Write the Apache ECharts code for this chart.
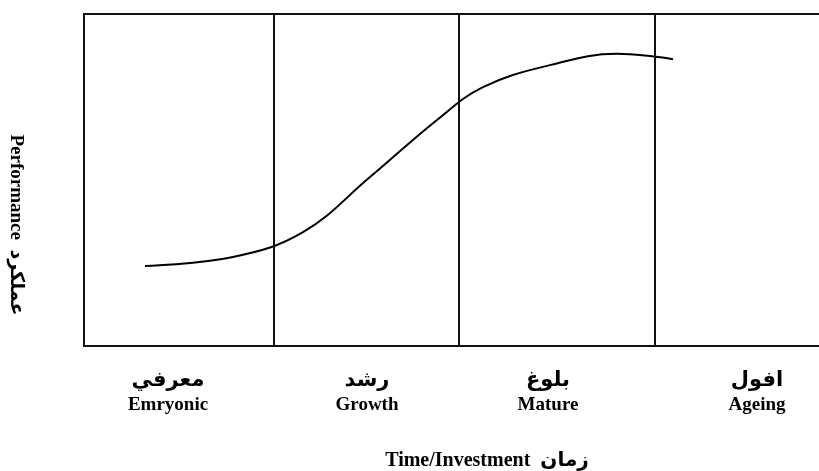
<!DOCTYPE html>
<html>
<head>
<meta charset="utf-8">
<script src="https://cdn.jsdelivr.net/npm/echarts@6/dist/echarts.min.js"></script>
<style>
  html, body { margin: 0; padding: 0; background: #fff; }
  #container { width: 819px; height: 471px; }
</style>
</head>
<body>
<div id="container"></div>
<script>
  var dom = document.getElementById("container");
  var myChart = echarts.init(dom);

  // stage names (arabic + english) and where the label sits on the time axis
  var stageAr = ['معرفي', 'رشد', 'بلوغ', 'افول'];
  var stageEn = ['Emryonic', 'Growth', 'Mature', 'Ageing'];
  var stageLabelPos = [84, 283, 464, 673];
  // boundaries between the stages
  var stageBounds = [190, 375, 571];

  // performance curve (time, performance 0-100)
  var curveTime = [61, 149, 219, 286, 353, 399, 466, 533, 570, 589];
  var curvePerf = [24.1, 26.8, 34.3, 50.9, 68.1, 78.0, 84.6, 88.0, 87.2, 86.4];

  var serif = '"Liberation Serif", "Times New Roman", "DejaVu Sans", serif';

  var curveData = curveTime.map(function (t, i) { return [t, curvePerf[i]]; });

  option = {
      animation: false,
      grid: {
          left: 84,
          top: 14,
          width: 740,
          height: 332,
          outerBoundsMode: 'none',
          containLabel: false,
          show: true,
          borderColor: '#111',
          borderWidth: 2,
          backgroundColor: '#fff'
      },
      xAxis: {
          type: 'value',
          min: 0,
          max: 740,
          splitLine: { show: false },
          axisLine: { show: false },
          axisTick: { show: false },
          axisLabel: {
              customValues: stageLabelPos,
              margin: 22,
              formatter: function (v) {
                  var i = stageLabelPos.indexOf(v);
                  return '{ar|' + stageAr[i] + '}\n{en|' + stageEn[i] + '}';
              },
              rich: {
                  ar: { fontFamily: serif, fontWeight: 'bold', fontSize: 21, color: '#000', lineHeight: 26 },
                  en: { fontFamily: serif, fontWeight: 'bold', fontSize: 19, color: '#000', lineHeight: 22 }
              }
          }
      },
      yAxis: {
          type: 'value',
          min: 0,
          max: 100,
          show: false,
          splitLine: { show: false }
      },
      //轴标题
      graphic: [
          {
              type: 'text',
              x: 16,
              y: 225,
              rotation: -Math.PI / 2,
              style: {
                  text: 'Performance  عملکرد',
                  font: 'bold 19px ' + serif,
                  fill: '#000',
                  align: 'center',
                  verticalAlign: 'middle'
              }
          },
          {
              type: 'text',
              x: 487,
              y: 461,
              style: {
                  text: 'Time/Investment  زمان',
                  font: 'bold 20px ' + serif,
                  fill: '#000',
                  align: 'center',
                  verticalAlign: 'middle'
              }
          }
      ],
      series: [{
          type: 'line',
          data: curveData,
          smooth: 0.4,
          showSymbol: false,
          lineStyle: { color: '#000', width: 2 },
          markLine: {
              silent: true,
              symbol: 'none',
              label: { show: false },
              lineStyle: { color: '#111', width: 2, type: 'solid' },
              data: stageBounds.map(function (b) { return { xAxis: b }; })
          }
      }]
  };
  if (option && typeof option === "object") {
      myChart.setOption(option, true);
  }
</script>
</body>
</html>
